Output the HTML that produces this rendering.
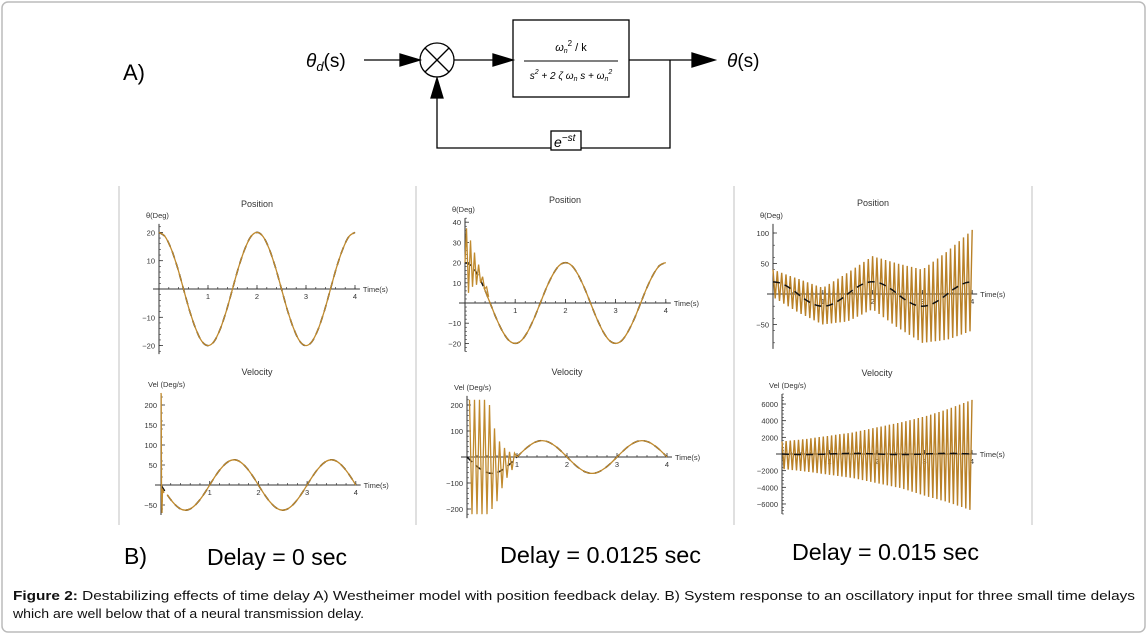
<!DOCTYPE html>
<html><head><meta charset="utf-8"><style>
body{margin:0;background:#fff;width:1148px;height:635px;overflow:hidden;font-family:"Liberation Sans",Arial,sans-serif}
svg{position:absolute;left:0;top:0}
</style></head><body>
<svg id="s" width="1148" height="635" viewBox="0 0 1148 635">
<rect x="2" y="2" width="1143" height="630" rx="6" fill="#fff" stroke="#bbb" stroke-width="1.5"/>
<g font-family="Liberation Sans, Arial, sans-serif" fill="none" stroke="#000" stroke-width="1.3">
<text x="123" y="80" font-size="22" fill="#000" stroke="none">A)</text>
<text x="306" y="67" font-size="19" font-style="italic" fill="#000" stroke="none">θ<tspan font-size="13" dy="4">d</tspan><tspan dy="-4" font-style="normal">(s)</tspan></text>
<line x1="364" y1="60" x2="410" y2="60"/><polygon points="420,60 400,54 400,66" fill="#000"/>
<circle cx="437" cy="60" r="17"/>
<line x1="425" y1="48" x2="449" y2="72"/><line x1="449" y1="48" x2="425" y2="72"/>
<line x1="454" y1="60" x2="505" y2="60"/><polygon points="513,60 493,54 493,66" fill="#000"/>
<rect x="513" y="20" width="116" height="77"/>
<line x1="524" y1="61" x2="618" y2="61" stroke-width="0.9"/>
<text x="571" y="51" font-size="11" font-style="italic" fill="#000" stroke="none" text-anchor="middle">ω<tspan font-size="7" dy="2">n</tspan><tspan font-size="8" dy="-7" font-style="normal">2</tspan><tspan dy="5" font-style="normal"> / k</tspan></text>
<text x="571" y="79" font-size="10" font-style="italic" fill="#000" stroke="none" text-anchor="middle">s<tspan font-size="7" dy="-5">2</tspan><tspan dy="5"> + 2 ζ ω</tspan><tspan font-size="7" dy="2">n</tspan><tspan dy="-2"> s + ω</tspan><tspan font-size="7" dy="2">n</tspan><tspan font-size="7" dy="-7">2</tspan></text>
<line x1="629" y1="60" x2="695" y2="60"/><polygon points="715,60 692,53 692,67" fill="#000"/>
<text x="727" y="67" font-size="19" font-style="italic" fill="#000" stroke="none">θ<tspan font-style="normal">(s)</tspan></text>
<polyline points="670,60 670,148 437,148 437,95"/><polygon points="437,78 431,98 443,98" fill="#000"/>
<rect x="551" y="131" width="30" height="19" fill="#fff"/>
<text x="554" y="147" font-size="14" font-style="italic" fill="#000" stroke="none">e<tspan font-size="10" dy="-6">−st</tspan></text>
</g>
<g id="plots"></g>
<g font-family="Liberation Sans, sans-serif" font-size="23" fill="#000">
<text x="124" y="564">B)</text>
<text x="207" y="565" textLength="140" lengthAdjust="spacingAndGlyphs">Delay = 0 sec</text>
<text x="500" y="563" textLength="201" lengthAdjust="spacingAndGlyphs">Delay = 0.0125 sec</text>
<text x="792" y="560" textLength="187" lengthAdjust="spacingAndGlyphs">Delay = 0.015 sec</text>
</g>
<g font-size="13" fill="#111">
<text x="13" y="600" textLength="1122" lengthAdjust="spacingAndGlyphs"><tspan font-weight="bold">Figure 2:</tspan> Destabilizing effects of time delay A) Westheimer model with position feedback delay. B) System response to an oscillatory input for three small time delays</text>
<text x="13" y="618" textLength="351" lengthAdjust="spacingAndGlyphs">which are well below that of a neural transmission delay.</text>
</g>
</svg>
<script>
// ---- data ----
const tRef = [0,0.125,0.25,0.375,0.5,0.625,0.75,0.875,1,1.125,1.25,1.375,1.5,1.625,1.75,1.875,2,2.125,2.25,2.375,2.5,2.625,2.75,2.875,3,3.125,3.25,3.375,3.5,3.625,3.75,3.875,4];
const posRef = [20,18.5,14.1,7.7,0,-7.7,-14.1,-18.5,-20,-18.5,-14.1,-7.7,0,7.7,14.1,18.5,20,18.5,14.1,7.7,0,-7.7,-14.1,-18.5,-20,-18.5,-14.1,-7.7,0,7.7,14.1,18.5,20];
const velRef = [0,-24,-44,-58,-63,-58,-44,-24,0,24,44,58,63,58,44,24,0,-24,-44,-58,-63,-58,-44,-24,0,24,44,58,63,58,44,24,0];
const spikeT = [0,0.005,0.01,0.02,0.03,0.06];
const spikeV = [230,225,-10,-70,-10,-20];
const osc2PosT = [0,0.03,0.07,0.11,0.15,0.19,0.23,0.27,0.31,0.35,0.39,0.43,0.47];
const osc2PosV = [20,37,5,31,8,25,9,19,10,13,7,8,3];
const osc2VelT = [0.05,0.1,0.15,0.2,0.25,0.3,0.35,0.4,0.45,0.5,0.55,0.6,0.65,0.7,0.75,0.8,0.85,0.9,0.95,1.0];
const osc2VelV = [220,-220,220,-220,220,-220,220,-220,200,-200,110,-170,60,-120,35,-80,20,-50,15,0];
const envT = [0,0.5,1,1.5,2,2.5,3,3.5,4];
const pos3Up = [40,25,10,35,62,50,40,70,105];
const pos3Lo = [-5,-30,-50,-45,-25,-55,-80,-75,-60];
const vel3Up = [1500,1800,2200,2600,3200,3800,4500,5400,6500];
const vel3Lo = [-1800,-2100,-2500,-2900,-3500,-4100,-5000,-5800,-6800];
const cycles3 = 46;
const xTicks = [1,2,3,4];

const NS='http://www.w3.org/2000/svg';
const root=document.getElementById('plots');
function el(tag,attrs,parent){const e=document.createElementNS(NS,tag);for(const k in attrs)e.setAttribute(k,attrs[k]);(parent||root).appendChild(e);return e;}
function interp(ts,vs,t){if(t<=ts[0])return vs[0];for(let i=1;i<ts.length;i++){if(t<=ts[i]){const f=(t-ts[i-1])/(ts[i]-ts[i-1]);return vs[i-1]+f*(vs[i]-vs[i-1]);}}return vs[vs.length-1];}
function smooth(pts){let d='M'+pts[0][0].toFixed(1)+','+pts[0][1].toFixed(1);for(let i=0;i<pts.length-1;i++){const p0=pts[Math.max(0,i-1)],p1=pts[i],p2=pts[i+1],p3=pts[Math.min(pts.length-1,i+2)];const c1=[p1[0]+(p2[0]-p0[0])/6,p1[1]+(p2[1]-p0[1])/6],c2=[p2[0]-(p3[0]-p1[0])/6,p2[1]-(p3[1]-p1[1])/6];d+='C'+c1[0].toFixed(1)+','+c1[1].toFixed(1)+' '+c2[0].toFixed(1)+','+c2[1].toFixed(1)+' '+p2[0].toFixed(1)+','+p2[1].toFixed(1);}return d;}

function axes(c){
  const g=el('g',{});
  
  
  const X=t=>c.x0+t*c.xs, Y=v=>c.y0-v*c.ys;
  c.X=X;c.Y=Y;c.g=g;
  const tt=el('text',{x:c.titleX,y:c.titleY,'font-size':9,'text-anchor':'middle',fill:'#333'},g);tt.textContent=c.title;
  
  
  const yl=el('text',{x:c.x0-13,y:Y(c.yMax)-6,'font-size':7.5,fill:'#333'},g);yl.textContent=c.ylab;
  
  
  el('line',{x1:c.x0,y1:Y(c.yMax),x2:c.x0,y2:Y(c.yMin),stroke:'#333','stroke-width':1},g);
  el('line',{x1:c.x0-6,y1:c.y0,x2:X(4.1),y2:c.y0,stroke:'#333','stroke-width':1},g);
  const xl=el('text',{x:X(4.1)+3,y:c.y0+3,'font-size':7.5,fill:'#333'},g);xl.textContent='Time(s)';
  
  
  for(let t=0.2;t<4.05;t+=0.2){el('line',{x1:X(t),y1:c.y0,x2:X(t),y2:c.y0-2,stroke:'#333','stroke-width':0.7},g);}
  xTicks.forEach(t=>{el('line',{x1:X(t),y1:c.y0,x2:X(t),y2:c.y0-4,stroke:'#333','stroke-width':0.8},g);const tx=el('text',{x:X(t),y:c.y0+10,'font-size':7.5,'text-anchor':'middle',fill:'#333'},g);tx.textContent=t;
    
    });
  const step=c.yTicks[1]-c.yTicks[0];
  for(let v=Math.ceil(c.yMin/(step/5))*(step/5);v<=c.yMax;v+=step/5){el('line',{x1:c.x0,y1:Y(v),x2:c.x0+2,y2:Y(v),stroke:'#333','stroke-width':0.6},g);}
  c.yTicks.forEach((v,i)=>{el('line',{x1:c.x0,y1:Y(v),x2:c.x0+4,y2:Y(v),stroke:'#333','stroke-width':0.8},g);const tx=el('text',{x:c.x0-4,y:Y(v)+3,'font-size':7.5,'text-anchor':'end',fill:'#333'},g);tx.textContent=c.yLabels[i];
    
    });
  return c;
}
const ORG='#c08a2e';
function refLine(c,vals,dash){
  const p=el('path',{d:smooth(tRef.map((t,i)=>[c.X(t),c.Y(vals[i])])),fill:'none',stroke:'#111','stroke-width':1.5,'stroke-dasharray':dash?'7,5':'none'},c.g);
  
  
  return p;
}
function respLine(c,vals,from){
  const pts=[];tRef.forEach((t,i)=>{if(t>=from)pts.push([c.X(t),c.Y(vals[i])]);});
  const p=el('path',{d:smooth(pts),fill:'none',stroke:ORG,'stroke-width':1.3},c.g);
  
  
}
function zig(c,ts,vs,name){
  const p=el('polyline',{points:ts.map((t,i)=>c.X(t).toFixed(1)+','+c.Y(vs[i]).toFixed(1)).join(' '),fill:'none',stroke:ORG,'stroke-width':1.3},c.g);
  
  
}
function envZig(c,up,lo,name){
  const ts=[],vs=[];const n=cycles3*2;
  for(let i=0;i<=n;i++){const t=4*i/n;ts.push(t);vs.push(i%2?interp(envT,lo,t):interp(envT,up,t));}
  const p=el('polyline',{points:ts.map((t,i)=>c.X(t).toFixed(1)+','+c.Y(vs[i]).toFixed(1)).join(' '),fill:'none',stroke:'#b98128','stroke-width':1.4,'stroke-linejoin':'miter'},c.g);
  
  
}
// separators
[119,416,734,1032].forEach(x=>{const l=el('line',{x1:x,y1:186,x2:x,y2:525,stroke:'#ccc','stroke-width':1.2});
  
  });

// panel 1
let a=axes({name:'position-plot-delay-0',x0:159,y0:289,xs:49,ys:2.83,yMin:-23,yMax:23,yTicks:[-20,-10,10,20],yLabels:['−20','−10','10','20'],title:'Position',titleX:257,titleY:207,ylab:'θ(Deg)'});
refLine(a,posRef,true);respLine(a,posRef,0);
let b=axes({name:'velocity-plot-delay-0',x0:161,y0:485,xs:48.7,ys:0.4,yMin:-75,yMax:230,yTicks:[-50,50,100,150,200],yLabels:['−50','50','100','150','200'],title:'Velocity',titleX:257,titleY:375,ylab:'Vel (Deg/s)'});
refLine(b,velRef,true);respLine(b,velRef,0.06);zig(b,spikeT,spikeV,'velocity-spike');

// panel 2
a=axes({name:'position-plot-delay-00125',x0:465,y0:303,xs:50.2,ys:2.02,yMin:-24,yMax:42,yTicks:[-20,-10,10,20,30,40],yLabels:['−20','−10','10','20','30','40'],title:'Position',titleX:565,titleY:203,ylab:'θ(Deg)'});
refLine(a,posRef,true);zig(a,osc2PosT,osc2PosV,'position-oscillation');respLine(a,posRef,0.375);
b=axes({name:'velocity-plot-delay-00125',x0:467,y0:457,xs:50,ys:0.26,yMin:-235,yMax:235,yTicks:[-200,-100,100,200],yLabels:['−200','−100','100','200'],title:'Velocity',titleX:567,titleY:375,ylab:'Vel (Deg/s)'});
refLine(b,velRef,true);zig(b,osc2VelT,osc2VelV,'velocity-oscillation');respLine(b,velRef,1);

// panel 3
a=axes({name:'position-plot-delay-0015',x0:773,y0:294,xs:49.8,ys:0.61,yMin:-90,yMax:115,yTicks:[-50,50,100],yLabels:['−50','50','100'],title:'Position',titleX:873,titleY:206,ylab:'θ(Deg)'});
envZig(a,pos3Up,pos3Lo,'position-oscillation');refLine(a,posRef,true);
b=axes({name:'velocity-plot-delay-0015',x0:782,y0:454,xs:47.5,ys:0.00833,yMin:-7200,yMax:7200,yTicks:[-6000,-4000,-2000,2000,4000,6000],yLabels:['−6000','−4000','−2000','2000','4000','6000'],title:'Velocity',titleX:877,titleY:376,ylab:'Vel (Deg/s)'});
envZig(b,vel3Up,vel3Lo,'velocity-oscillation');refLine(b,velRef,true);
</script>
</body></html>
